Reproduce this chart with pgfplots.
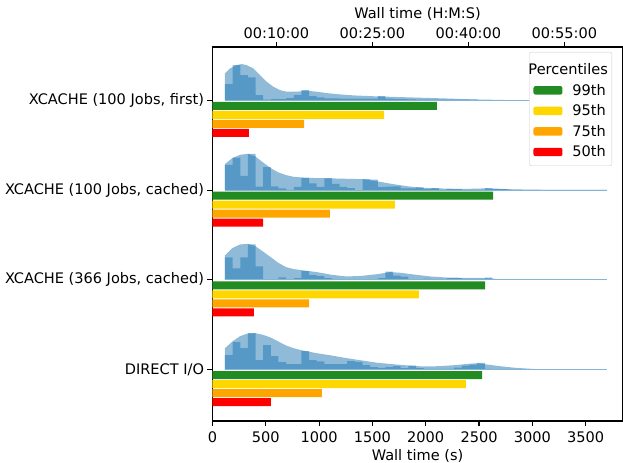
\documentclass[border=0pt]{standalone}
\usepackage{fontspec}
\setmainfont{DejaVu Sans}
\usepackage{pgfplots}
\usepackage{pgfplotstable}
\pgfplotsset{compat=1.18}
\definecolor{Czero}{HTML}{1F77B4}
\definecolor{p99}{HTML}{228B22}
\definecolor{p95}{HTML}{FFD700}
\definecolor{p75}{HTML}{FFA500}
\definecolor{p50}{HTML}{FF0000}

% histogram: bin left edges, heights (px) for the four rows
\pgfplotstableread{
x a b c d
118 0 0 0 0
118 16.3 25.3 22.5 14.5
189.6 35.3 32.5 11.5 27.5
261.3 25.3 14.3 22.5 21.3
332.9 23 36.3 35.5 36.5
404.6 5.3 3.5 13.5 9.5
476.2 0.7 23 0.3 24.5
547.8 1.3 3.7 0.3 13.3
619.5 1.3 1.7 2.5 7.5
691.1 2.3 0.3 0.3 5.5
762.8 5.3 3.3 1.8 5.5
834.4 10.3 12 8.8 18.3
906.0 4.3 6.7 4.6 9.5
977.7 3 3.3 3.6 8.2
1049.3 2 12 1.8 5.3
1121.0 2 6.3 0.7 5.3
1192.6 1.7 3.3 0.3 5.3
1264.2 1.7 2 0.3 8.5
1335.9 1.7 0 0.3 7.7
1407.5 1.7 11 0.3 4.5
1479.2 1.7 10.5 0.3 2.3
1550.8 4.3 3 1.7 1.7
1622.4 1.7 3.5 8.3 2.3
1694.1 1.3 3.7 4.3 3.3
1765.7 1.3 1.7 3.3 1.3
1837.4 1 1.7 0.3 4
1909.0 0.7 2.7 0.3 1.3
1980.6 0.7 1 1.3 0.7
2052.3 0.7 2 0.3 0.7
2123.9 0.7 0.3 0.3 0.7
2195.6 0.7 1 1.7 0.7
2267.2 0.7 1 1.7 2
2338.8 0.7 0.3 1 4
2410.5 0.7 0.3 1 5
2482.1 0 0.3 1 6.7
2553.8 0 2 2.3 0.7
2625.4 0 1.3 0 0.3
2697.0 0 1 0 0.3
2768.7 0 0.3 0 0.3
2840.3 0 0.3 0 0.3
2912.0 0 0.3 0 0
2983.6 0 0.3 0 0
3055.2 0 0.3 0 0
3126.9 0 0.3 0 0
3198.5 0 0.3 0 0
3270.2 0 0.3 0 0
3341.8 0 0.3 0 0
3413.4 0 0.3 0 0
3485.1 0 0.3 0 0
3556.7 0 0.3 0 0
3628.4 0 0.3 0 0
3700 0 0 0 0
}\hist

\pgfplotstableread{
x h
118 0
118 27
165 32
227 35.3
274 36.3
321 35.3
384 32
446 25.3
509 18.7
571 13.7
634 10.3
696 8.7
790 8.7
884 9.7
977 8.7
1071 7.3
1196 6
1321 5
1477 4.3
1540 4
1853 3
2165 2
2446 1
2790 0.3
2790 0
}\kdeA

\pgfplotstableread{
x h
118 0
118 26
187 32
259 35.3
331 36.3
403 33.7
474 27.7
546 22
618 17.7
690 15
762 13.3
834 12.7
978 12
1118 11.7
1262 11.3
1406 11
1549 8.7
1693 6
1837 3.7
1978 2.3
2121 1.7
2265 1.3
2409 1.3
2553 1.7
2696 1.3
2840 0.7
3103 0.3
3696 0.3
3696 0
}\kdeB

\pgfplotstableread{
x h
118 0
118 24.3
187 31.7
259 35.3
331 36
403 33.7
474 28.3
546 22.7
618 17
690 12.7
762 10.7
834 9.7
978 7.7
1118 5
1262 3.3
1406 4
1549 5.7
1665 7.7
1765 7
1909 5
2049 3.3
2193 2.3
2337 2
2481 2
2624 1.3
2696 0.3
2696 0
}\kdeC

\pgfplotstableread{
x h
118 0
118 21.3
187 28
259 33.3
331 36
403 36.3
474 34.7
546 32
618 28
690 24
762 21.3
834 19.3
978 16.3
1118 14
1262 11.3
1406 9
1549 6.7
1693 5.3
1837 4
1978 3
2121 3.3
2265 4.3
2409 5.7
2481 6.3
2553 5.3
2696 3.3
2840 1.7
2987 0.7
3056 0.3
3056 0
}\kdeD

\pgfplotsset{
  every axis/.append style={font=\fontsize{14.6}{17.5}\selectfont},
  /pgf/number format/assume math mode=true,
  /pgf/number format/1000 sep={},
  barleg/.style={legend image code/.code={\fill[##1] (0bp,-4.2bp) rectangle (29bp,4.2bp);}},
}

\begin{document}
\begin{tikzpicture}
\begin{axis}[
  name=main, at={(0,0)}, anchor=south west,
  width=410.3bp, height=374bp, scale only axis,
  xmin=0, xmax=3847, ymin=47, ymax=421, y dir=reverse,
  axis line style={line width=1.1bp},
  every tick/.style={black, line width=1.1bp},
  tick align=outside, major tick length=4.9bp,
  xtick pos=bottom, ytick pos=left,
  xtick={0,500,...,3500},
  ytick={100.4,190.1,279.8,369.5},
  yticklabels={XCACHE (100 Jobs{,} first),XCACHE (100 Jobs{,} cached),XCACHE (366 Jobs{,} cached),DIRECT I/O},
  xticklabel style={yshift=-2bp},
  xlabel={Wall time (s)},
  xlabel style={yshift=-0.5bp},
  legend cell align=left,
  legend style={at={(0.974,0.987)}, anchor=north east, draw=black!20, rounded corners=2bp,
    fill=white, inner xsep=4bp, inner ysep=7.5bp, row sep=8bp, column sep=10bp,
    nodes={inner sep=0pt},
    font=\fontsize{14.6}{17.5}\selectfont},
]
% KDE shapes
\addplot[draw=none, fill=Czero, fill opacity=0.5, forget plot] table[x=x, y expr=100.4-\thisrow{h}] \kdeA;
\addplot[draw=none, fill=Czero, fill opacity=0.5, forget plot] table[x=x, y expr=190.1-\thisrow{h}] \kdeB;
\addplot[draw=none, fill=Czero, fill opacity=0.5, forget plot] table[x=x, y expr=279.8-\thisrow{h}] \kdeC;
\addplot[draw=none, fill=Czero, fill opacity=0.5, forget plot] table[x=x, y expr=369.5-\thisrow{h}] \kdeD;
% histograms
\addplot[const plot, draw=none, fill=Czero, fill opacity=0.5, forget plot] table[x=x, y expr=100.4-\thisrow{a}] \hist;
\addplot[const plot, draw=none, fill=Czero, fill opacity=0.5, forget plot] table[x=x, y expr=190.1-\thisrow{b}] \hist;
\addplot[const plot, draw=none, fill=Czero, fill opacity=0.5, forget plot] table[x=x, y expr=279.8-\thisrow{c}] \hist;
\addplot[const plot, draw=none, fill=Czero, fill opacity=0.5, forget plot] table[x=x, y expr=369.5-\thisrow{d}] \hist;
% baselines
\addplot[Czero!55, line width=1.1bp, forget plot] coordinates {(118,100.4) (3700,100.4)};
\addplot[Czero!55, line width=1.1bp, forget plot] coordinates {(118,190.1) (3700,190.1)};
\addplot[Czero!55, line width=1.1bp, forget plot] coordinates {(118,279.8) (3700,279.8)};
\addplot[Czero!55, line width=1.1bp, forget plot] coordinates {(118,369.5) (3700,369.5)};

\addlegendimage{empty legend}
\addlegendentry{\rule{0pt}{15bp}\hspace*{-44bp}Percentiles}
% percentile bars
\addplot[xbar, bar width=8, bar shift=0pt, fill=p99, draw=none, barleg]
  coordinates {(2105,105.9) (2631,195.6) (2556,285.3) (2528,375.0)};
\addlegendentry{99th}
\addplot[xbar, bar width=8, bar shift=0pt, fill=p95, draw=none, barleg]
  coordinates {(1609,114.9) (1712,204.6) (1937,294.3) (2377,384.0)};
\addlegendentry{95th}
\addplot[xbar, bar width=8, bar shift=0pt, fill=p75, draw=none, barleg]
  coordinates {(859,123.9) (1102,213.6) (906,303.3) (1027,393.0)};
\addlegendentry{75th}
\addplot[xbar, bar width=8, bar shift=0pt, fill=p50, draw=none, barleg]
  coordinates {(343,132.9) (475,222.6) (390,312.3) (549,402.0)};
\addlegendentry{50th}
\end{axis}
\begin{axis}[
  at={(0,0)}, anchor=south west,
  width=410.3bp, height=374bp, scale only axis,
  xmin=0, xmax=3847, ymin=0, ymax=1,
  axis x line*=top, axis y line=none,
  axis line style={line width=1.1bp, -},
  every tick/.style={black, line width=1.1bp},
  tick align=outside, major tick length=4.9bp,
  xtick={600,1500,2400,3300},
  xticklabels={00:10:00,00:25:00,00:40:00,00:55:00},
  xlabel={Wall time (H:M:S)},
  xlabel style={yshift=0bp},
]
\addplot[draw=none] coordinates {(0,0)};
\end{axis}
\pgfresetboundingbox
\path (-212.4bp,-42bp) rectangle (410.6bp,421bp);
\end{tikzpicture}
\end{document}
